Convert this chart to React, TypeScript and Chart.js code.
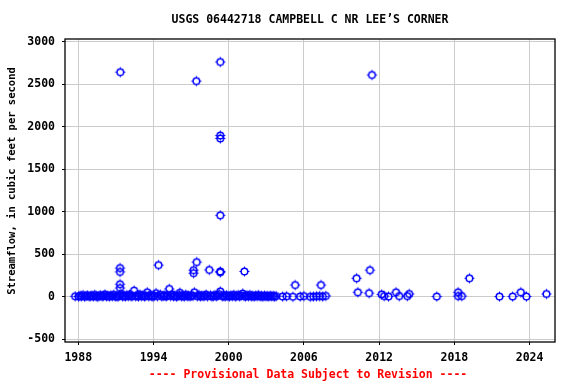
import React, { useEffect, useRef } from "react";
import { Chart, registerables } from "chart.js";

Chart.register(...registerables);

const chartTitle = "USGS 06442718 CAMPBELL C NR LEE\u2019S CORNER";
const yAxisTitle = "Streamflow, in cubic feet per second";
const footerText = "---- Provisional Data Subject to Revision ----";

const xTickValues = [1988, 1994, 2000, 2006, 2012, 2018, 2024];
const yTickValues = [-500, 0, 500, 1000, 1500, 2000, 2500, 3000];

// routine (low-flow) measurements: decimal year and discharge (cfs)
const routineYears = [
  1987.75, 1988.02, 1988.14, 1988.26, 1988.38, 1988.5, 1988.62, 1988.74, 1988.86, 1988.97,
  1989.08, 1989.2, 1989.31, 1989.43, 1989.55, 1989.66, 1989.78, 1989.9,
  1990.01, 1990.13, 1990.24, 1990.36, 1990.48, 1990.59, 1990.71, 1990.83, 1990.94,
  1991.06, 1991.17, 1991.29, 1991.41, 1991.52, 1991.64, 1991.76, 1991.87, 1991.99,
  1992.1, 1992.22, 1992.34, 1992.57, 1992.69, 1992.8, 1992.92,
  1993.03, 1993.15, 1993.27, 1993.38, 1993.62, 1993.73, 1993.85, 1993.96,
  1994.08, 1994.31, 1994.55, 1994.66, 1994.78, 1994.9,
  1995.01, 1995.13, 1995.36, 1995.48, 1995.59, 1995.71, 1995.83, 1995.94,
  1996.06, 1996.22, 1996.34, 1996.45, 1996.57, 1996.69, 1996.8, 1996.92,
  1997.03, 1997.15, 1997.5, 1997.62, 1997.73, 1997.85, 1997.96,
  1998.08, 1998.2, 1998.31, 1998.55, 1998.66, 1998.78, 1998.9,
  1999.01, 1999.13, 1999.24, 1999.48, 1999.59, 1999.71, 1999.82, 1999.94,
  2000.06, 2000.17, 2000.29, 2000.41, 2000.52, 2000.64, 2000.76, 2000.87, 2000.99,
  2001.22, 2001.34, 2001.45, 2001.57, 2001.69, 2001.8, 2001.92,
  2002.03, 2002.15, 2002.27, 2002.38, 2002.5, 2002.62, 2002.73, 2002.85, 2002.97,
  2003.08, 2003.2, 2003.31, 2003.43, 2003.55, 2003.66, 2003.78,
  2004.3, 2004.62, 2005.12, 2005.7, 2006.0, 2006.5, 2006.75, 2007.0, 2007.25, 2007.5, 2007.75,
  2012.4, 2012.75, 2013.6, 2014.25, 2016.6, 2018.3, 2018.6, 2021.6, 2022.65, 2023.75,
];
const routineFlow = [
  8, 5, 14, 9, 22, 4, 12, 18, 7, 11,
  16, 6, 25, 10, 3, 13, 20, 8,
  12, 30, 7, 15, 5, 19, 9, 26, 6,
  11, 4, 18, 35, 8, 14, 6, 21, 10,
  24, 7, 13, 9, 17, 5, 28,
  10, 19, 6, 14, 8, 22, 12, 4,
  15, 9, 26, 7, 13, 18,
  6, 20, 11, 30, 8, 15, 5, 12,
  22, 9, 16, 4, 27, 10, 14, 7,
  18, 12, 8, 24, 6, 15, 10,
  13, 28, 7, 19, 5, 11, 21,
  9, 16, 32, 8, 14, 6, 20, 11,
  7, 18, 10, 25, 5, 13, 22, 8, 15,
  12, 6, 19, 9, 24, 7, 14,
  5, 17, 10, 21, 8, 13, 4, 16, 9,
  11, 6, 15, 8, 12, 5, 10,
  5, 8, 3, 6, 10, 3, 5, 8, 10, 6, 12,
  10, 5, 10, 10, 5, 10, 10, 5, 5, 5,
];

// higher-flow measurements
const peakYears = [
  1991.35, 1991.33, 1991.33, 1991.33, 1991.33, 1992.45, 1993.5, 1994.2, 1994.4, 1995.26,
  1996.1, 1997.2, 1997.2, 1997.26, 1997.42, 1997.45, 1998.45, 1999.33, 1999.33, 1999.33,
  1999.33, 1999.33, 1999.33, 1999.33, 2001.12, 2001.25, 2005.3, 2007.36, 2010.2, 2010.3,
  2011.2, 2011.27, 2011.43, 2012.2, 2013.35, 2014.4, 2018.3, 2019.2, 2023.3, 2025.35,
];
const peakFlow = [
  2645, 340, 295, 150, 105, 75, 55, 45, 375, 95,
  50, 315, 280, 55, 2540, 410, 318, 2765, 1900, 1865,
  960, 300, 290, 65, 40, 300, 140, 140, 220, 55,
  45, 315, 2612, 30, 55, 35, 55, 220, 55, 35,
];

const FONT = "'DejaVu Sans Mono', monospace";

function makeMarker(): HTMLCanvasElement {
  const c = document.createElement("canvas");
  c.width = 13;
  c.height = 13;
  const g = c.getContext("2d")!;
  g.strokeStyle = "#0000ff";
  g.lineWidth = 1.5;
  g.beginPath();
  g.arc(6.5, 6.5, 3.3, 0, Math.PI * 2);
  g.stroke();
  g.lineWidth = 1;
  g.beginPath();
  g.moveTo(6.5, 1.5); g.lineTo(6.5, 3);
  g.moveTo(6.5, 10); g.lineTo(6.5, 11.5);
  g.moveTo(1.5, 6.5); g.lineTo(3, 6.5);
  g.moveTo(10, 6.5); g.lineTo(11.5, 6.5);
  g.stroke();
  return c;
}

const decorPlugin = {
  id: "decor",
  afterDatasetsDraw(chart: any) {
    const { ctx, chartArea } = chart;
    ctx.save();
    ctx.strokeStyle = "#000";
    ctx.lineWidth = 1.3;
    ctx.strokeRect(chartArea.left, chartArea.top, chartArea.right - chartArea.left, chartArea.bottom - chartArea.top);
    ctx.restore();
  },
  afterDraw(chart: any) {
    const { ctx, chartArea } = chart;
    const cx = (chartArea.left + chartArea.right) / 2;
    ctx.save();
    ctx.textAlign = "center";
    ctx.textBaseline = "middle";
    ctx.font = `bold 11.5px ${FONT}`;
    ctx.fillStyle = "#000";
    ctx.fillText(chartTitle, cx, 20);
    ctx.fillStyle = "#ff0000";
    ctx.fillText(footerText, cx - 2, 375);
    ctx.fillStyle = "#000";
    ctx.font = `bold 10.5px ${FONT}`;
    ctx.translate(12, 181);
    ctx.rotate(-Math.PI / 2);
    ctx.fillText(yAxisTitle, 0, 0);
    ctx.restore();
  },
};

export default function App() {
  const ref = useRef<HTMLCanvasElement | null>(null);
  useEffect(() => {
    if (!ref.current) return;
    const marker = makeMarker();
    const points = [
      ...routineYears.map((x, i) => ({ x, y: routineFlow[i] })),
      ...peakYears.map((x, i) => ({ x, y: peakFlow[i] })),
    ];
    const chart = new Chart(ref.current, {
      type: "scatter",
      data: {
        datasets: [
          {
            data: points,
            pointStyle: marker as any,
            pointRadius: 4,
            borderColor: "#0000ff",
            backgroundColor: "transparent",
          },
        ],
      },
      options: {
        responsive: false,
        animation: false,
        layout: { padding: { top: 39, right: 21, left: 0, bottom: 0 } },
        plugins: { legend: { display: false }, tooltip: { enabled: false }, title: { display: false } },
        scales: {
          x: {
            type: "linear",
            min: 1986.94,
            max: 2026.03,
            afterBuildTicks: (s: any) => {
              s.ticks = xTickValues.map((v) => ({ value: v }));
            },
            afterFit: (s: any) => {
              s.height = 42;
            },
            grid: { color: "#cccccc", lineWidth: 1, tickColor: "#000", tickLength: 3 },
            border: { display: false },
            ticks: {
              padding: 6,
              maxRotation: 0,
              autoSkip: false,
              color: "#000",
              font: { family: FONT, size: 11.5, weight: "bold" },
              callback: (v: any) => String(v),
            },
          },
          y: {
            type: "linear",
            min: -530,
            max: 3035,
            afterBuildTicks: (s: any) => {
              s.ticks = yTickValues.map((v) => ({ value: v }));
            },
            afterFit: (s: any) => {
              s.width = 65;
            },
            grid: { color: "#cccccc", lineWidth: 1, tickColor: "#000", tickLength: 3 },
            border: { display: false },
            ticks: {
              padding: 7,
              autoSkip: false,
              color: "#000",
              font: { family: FONT, size: 11.5, weight: "bold" },
              callback: (v: any) => String(v),
            },
          },
        },
      },
      plugins: [decorPlugin],
    });
    return () => chart.destroy();
  }, []);
  return (
    <div style={{ position: "absolute", left: 0, top: 0, width: 576, height: 384, background: "#fff" }}>
      <canvas ref={ref} width={576} height={384} style={{ display: "block", width: 576, height: 384 }} />
    </div>
  );
}
